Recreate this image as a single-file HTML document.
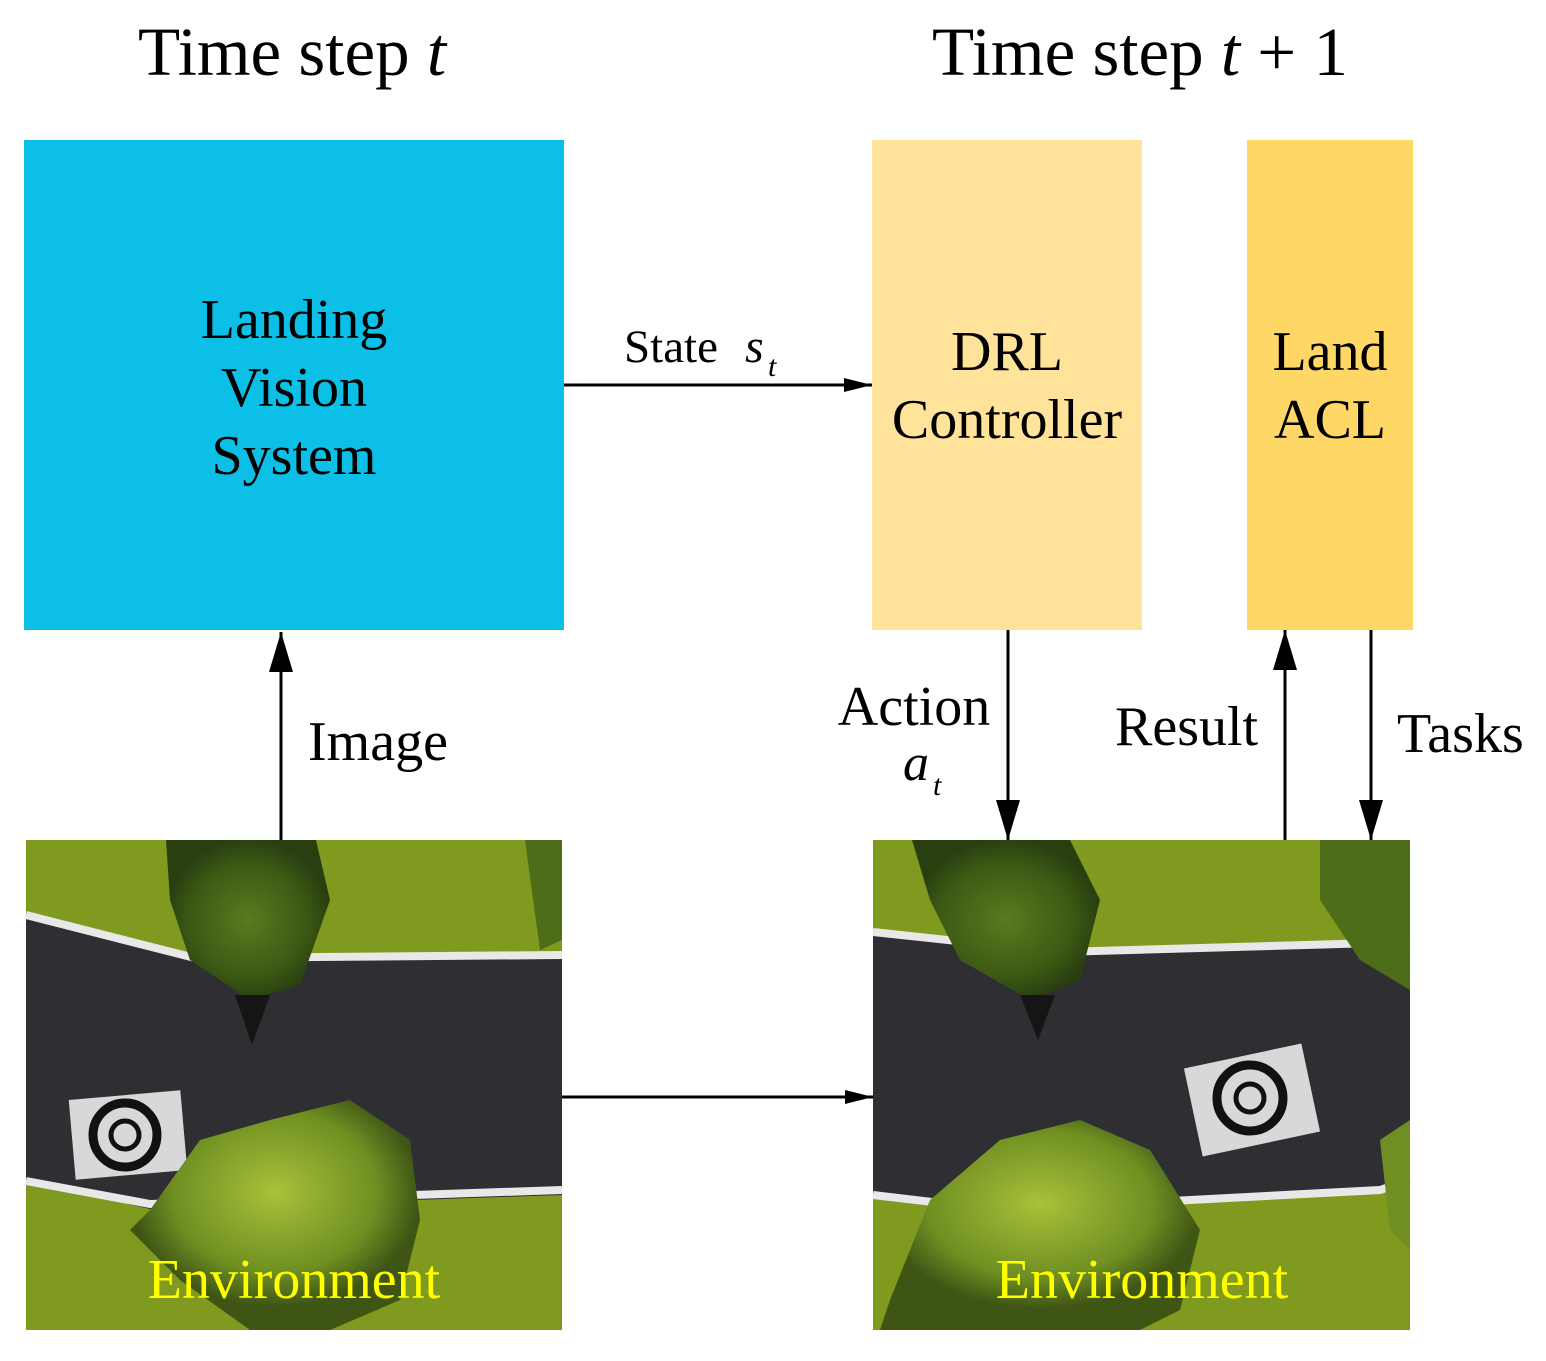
<!DOCTYPE html>
<html><head><style>
html,body{margin:0;padding:0;background:#fff;}
svg text{font-family:"Liberation Serif",serif;}
</style></head><body>
<svg width="1546" height="1356" viewBox="0 0 1546 1356" xmlns="http://www.w3.org/2000/svg">
<defs>
<marker id="ah" markerWidth="30" markerHeight="20" refX="28" refY="10" orient="auto" markerUnits="userSpaceOnUse">
<path d="M0,3 L28,10 L0,17 Z" fill="#000"/></marker>
<marker id="ahv" markerWidth="44" markerHeight="26" refX="40" refY="13" orient="auto" markerUnits="userSpaceOnUse">
<path d="M0,1 L40,13 L0,25 Z" fill="#000"/></marker>
<radialGradient id="tree" cx="50%" cy="50%" r="50%"><stop offset="0" stop-color="#5a7a1e"/><stop offset="0.7" stop-color="#3c5a14"/><stop offset="1" stop-color="#2a3f10"/></radialGradient>
<radialGradient id="bush" cx="50%" cy="40%" r="50%"><stop offset="0" stop-color="#a9c23a"/><stop offset="0.7" stop-color="#6f8f22"/><stop offset="1" stop-color="#3e5514"/></radialGradient>
</defs>
<text x="292" y="75" font-size="69" text-anchor="middle">Time step <tspan font-style="italic">t</tspan></text>
<text x="1140" y="75" font-size="69" text-anchor="middle">Time step <tspan font-style="italic">t</tspan> + 1</text>

<rect x="24" y="140" width="540" height="490" fill="#0BBFE6"/>
<rect x="872" y="140" width="270" height="490" fill="#FFE39A"/>
<rect x="1247" y="140" width="166" height="490" fill="#FED766"/>
<g font-size="56" text-anchor="middle">
<text x="294" y="338">Landing</text><text x="294" y="406">Vision</text><text x="294" y="474">System</text>
<text x="1007" y="370">DRL</text><text x="1007" y="438">Controller</text>
<text x="1330" y="370">Land</text><text x="1330" y="438">ACL</text>
</g>
<text x="624" y="362" font-size="47">State</text>
<text x="745" y="362" font-size="48" font-style="italic">s</text>
<text x="768" y="376" font-size="30" font-style="italic">t</text>
<line x1="564" y1="385" x2="872" y2="385" stroke="#000" stroke-width="3" marker-end="url(#ah)"/>

<!-- left env -->
<g>
<rect x="26" y="840" width="536" height="490" fill="#7f9a1e"/>
<polygon points="26,918 195,962 562,955 562,1195 150,1209 26,1181" fill="#2f2f33"/>
<polyline points="26,915 195,958 562,955" fill="none" stroke="#e8e8e8" stroke-width="8"/>
<polyline points="26,1181 150,1204 562,1190" fill="none" stroke="#e8e8e8" stroke-width="8"/>
<path d="M166,840 L316,840 L330,900 L300,985 L250,1000 L190,960 L170,900Z" fill="url(#tree)"/>
<path d="M235,995 L270,995 L252,1045Z" fill="#151515"/>
<rect x="72" y="1095" width="112" height="80" fill="#d8d8d8" transform="rotate(-5 128 1135)"/>
<circle cx="125" cy="1135" r="32" fill="none" stroke="#111" stroke-width="9"/>
<circle cx="125" cy="1135" r="14" fill="none" stroke="#111" stroke-width="5"/>
<path d="M150,1210 L200,1140 L270,1120 L350,1100 L410,1140 L420,1220 L400,1300 L330,1330 L250,1330 L180,1280 L130,1230Z" fill="url(#bush)"/>
<path d="M525,840 L562,840 L562,940 L540,950Z" fill="#4e6d18"/>
<text x="294" y="1298" font-size="56" fill="#ffff00" text-anchor="middle">Environment</text>
</g>
<!-- right env -->
<g>
<rect x="873" y="840" width="537" height="490" fill="#7f9a1e"/>
<polygon points="873,935 1060,955 1410,945 1410,1180 1380,1190 1000,1215 873,1195" fill="#2f2f33"/>
<polyline points="873,932 1060,952 1410,942" fill="none" stroke="#e8e8e8" stroke-width="8"/>
<polyline points="873,1195 1000,1210 1380,1190 1410,1180" fill="none" stroke="#e8e8e8" stroke-width="8"/>
<path d="M912,840 L1070,840 L1100,900 L1080,980 L1030,1000 L960,960 L930,900Z" fill="url(#tree)"/>
<path d="M1020,995 L1055,995 L1038,1040Z" fill="#151515"/>
<path d="M1320,840 L1410,840 L1410,990 L1360,960 L1320,900Z" fill="#4e6d18"/>
<rect x="1192" y="1055" width="120" height="90" fill="#d8d8d8" transform="rotate(-12 1252 1100)"/>
<circle cx="1250" cy="1098" r="33" fill="none" stroke="#111" stroke-width="9"/>
<circle cx="1250" cy="1098" r="14" fill="none" stroke="#111" stroke-width="5"/>
<path d="M890,1300 L930,1200 L1000,1140 L1080,1120 L1150,1150 L1200,1230 L1180,1310 L1140,1330 L880,1330Z" fill="url(#bush)"/>
<path d="M1380,1140 L1410,1120 L1410,1250 L1390,1230Z" fill="#6f8f22"/>
<text x="1142" y="1298" font-size="56" fill="#ffff00" text-anchor="middle">Environment</text>
</g>

<line x1="281" y1="840" x2="281" y2="632" stroke="#000" stroke-width="3" marker-end="url(#ahv)"/>
<text x="308" y="760" font-size="56">Image</text>
<line x1="1008" y1="630" x2="1008" y2="840" stroke="#000" stroke-width="3" marker-end="url(#ahv)"/>
<text x="914" y="725" font-size="56" text-anchor="middle">Action</text>
<text x="903" y="780" font-size="52" font-style="italic">a</text>
<text x="933" y="795" font-size="30" font-style="italic">t</text>
<line x1="1285" y1="840" x2="1285" y2="630" stroke="#000" stroke-width="3" marker-end="url(#ahv)"/>
<text x="1115" y="745" font-size="56">Result</text>
<line x1="1371" y1="630" x2="1371" y2="840" stroke="#000" stroke-width="3" marker-end="url(#ahv)"/>
<text x="1397" y="752" font-size="56">Tasks</text>
<line x1="562" y1="1097" x2="873" y2="1097" stroke="#000" stroke-width="3" marker-end="url(#ah)"/>
</svg>
</body></html>
